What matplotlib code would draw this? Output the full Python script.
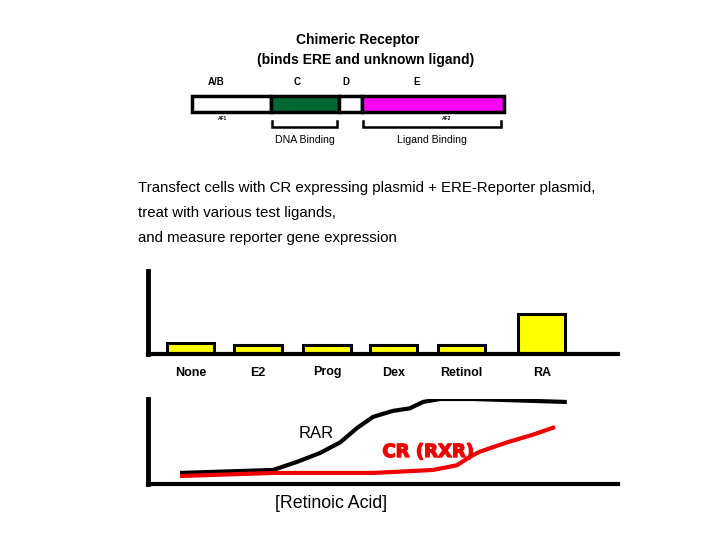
import matplotlib
matplotlib.use('Agg')
import matplotlib.pyplot as plt
from matplotlib.patches import Rectangle
import matplotlib.patheffects as pe

plt.rcParams['font.family'] = ['Liberation Sans', 'DejaVu Sans']

# Domain map of the chimeric receptor (labels and colours)
domain_labels = ['A/B', 'C', 'D', 'E']
domain_colors = ['white', '#006633', 'white', '#ff00ff']

# Reporter assay bar chart
ligands = ['None', 'E2', 'Prog', 'Dex', 'Retinol', 'RA']
reporter = [1.33, 1.08, 1.08, 1.08, 1.08, 4.8]

# Dose-response curves (log [RA] in arbitrary units vs response)
rar_x = [0.68, 2.66, 3.17, 3.66, 4.09, 4.45, 4.79, 5.21, 5.57, 5.85, 6.21, 6.91, 8.91]
rar_y = [0.13, 0.165, 0.26, 0.365, 0.49, 0.66, 0.79, 0.86, 0.89, 0.965, 1.0, 1.0, 0.965]
rxr_x = [0.68, 2.66, 4.79, 6.06, 6.57, 6.85, 7.06, 7.64, 8.19, 8.66]
rxr_y = [0.094, 0.13, 0.13, 0.165, 0.22, 0.32, 0.38, 0.49, 0.58, 0.67]

fig = plt.figure(figsize=(7.2, 5.4), dpi=100)

# background canvas in pixel coordinates
bg = fig.add_axes([0, 0, 1, 1])
bg.set_xlim(0, 720)
bg.set_ylim(540, 0)
bg.axis('off')

bg.text(358, 40, 'Chimeric Receptor', ha='center', va='center', fontsize=10, fontweight='bold')
bg.text(366, 60, '(binds ERE and unknown ligand)', ha='center', va='center', fontsize=10, fontweight='bold')

# domain bar
seg_x = [(192, 271), (271, 339), (339, 362), (362, 504)]
label_x = [216, 297, 346, 417]
for (x0, x1), col, lab, lx in zip(seg_x, domain_colors, domain_labels, label_x):
    bg.add_patch(Rectangle((x0, 96), x1 - x0, 16, facecolor=col, edgecolor='black', lw=2.5))
    bg.text(lx, 82, lab, ha='center', va='center', fontsize=7, fontweight='bold')

bg.text(222, 118, 'AF1', ha='center', va='center', fontsize=3.5, fontweight='bold')
bg.text(447, 118, 'AF2', ha='center', va='center', fontsize=3.5, fontweight='bold')

# brackets
for x0, x1, txt in [(272, 337, 'DNA Binding'), (363, 501, 'Ligand Binding')]:
    bg.plot([x0, x0, x1, x1], [121, 127, 127, 121], color='black', lw=1.8,
            solid_joinstyle='miter')
    bg.text((x0 + x1) / 2, 140, txt, ha='center', va='center', fontsize=7.6)

lines = ['Transfect cells with CR expressing plasmid + ERE-Reporter plasmid,',
         'treat with various test ligands,',
         'and measure reporter gene expression']
for i, line in enumerate(lines):
    bg.text(138, 188 + i * 25, line, ha='left', va='center', fontsize=10.8)

# bar chart axes: x 148..618 px, y 271..354 px
axb = fig.add_axes([148 / 720, 1 - 354 / 540, 470 / 720, 83 / 540])
axb.patch.set_alpha(0)
bar_pos = [0, 1, 2.02, 3.01, 4.01, 5.2]
axb.bar(bar_pos, reporter, width=0.7, color='#ffff00', edgecolor='black', linewidth=2.2)
axb.set_xlim(-0.63, 6.33)
axb.set_ylim(0, 10)
for s in ['top', 'right']:
    axb.spines[s].set_visible(False)
axb.spines['left'].set_linewidth(3.5)
axb.spines['bottom'].set_linewidth(3)
axb.set_yticks([])
axb.set_xticks(bar_pos)
axb.set_xticklabels(ligands, fontsize=9, fontweight='bold')
axb.tick_params(axis='x', length=0, pad=9)

# dose-response axes: x 148..618 px, y 399..484 px
axl = fig.add_axes([148 / 720, 1 - 484 / 540, 470 / 720, 85 / 540])
axl.patch.set_alpha(0)
axl.plot(rar_x, rar_y, color='black', lw=3, solid_capstyle='butt')
axl.plot(rxr_x, rxr_y, color='#ee0000', lw=3, solid_capstyle='butt')
axl.set_xlim(0, 10)
axl.set_ylim(0, 1.0)
for s in ['top', 'right']:
    axl.spines[s].set_visible(False)
axl.spines['left'].set_linewidth(3.5)
axl.spines['bottom'].set_linewidth(3)
axl.set_xticks([])
axl.set_yticks([])

bg.text(316, 434, 'RAR', ha='center', va='center', fontsize=12)
bg.text(428, 452, 'CR (RXR)', ha='center', va='center', fontsize=13, fontweight='bold',
        family=['DejaVu Sans'], color='#ee0000',
        path_effects=[pe.withStroke(linewidth=1.0, foreground='#ee0000')])
bg.text(331, 504, '[Retinoic Acid]', ha='center', va='center', fontsize=12.8)

fig.savefig('out.png', dpi=100)
